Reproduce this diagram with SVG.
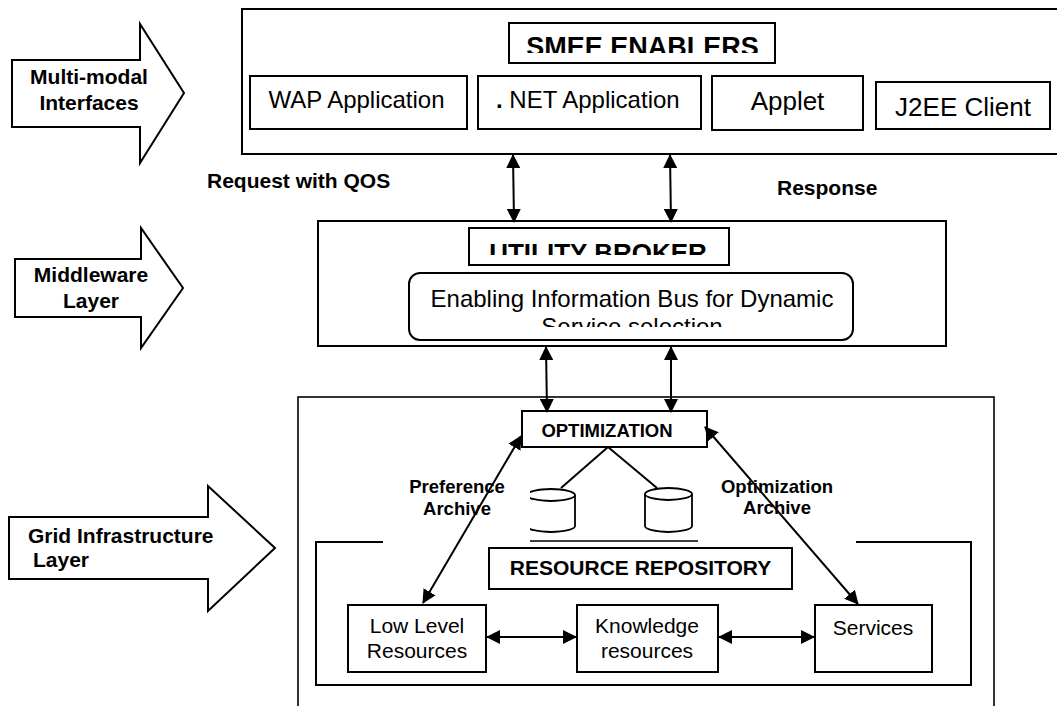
<svg xmlns="http://www.w3.org/2000/svg" width="1057" height="706" viewBox="0 0 1057 706">
<style>
.b{fill:#fff;stroke:#000;stroke-width:2}
.t{font-family:"Liberation Sans",Arial,sans-serif;fill:#000}
.bd{font-weight:bold}
.c{stroke:#000;stroke-width:2;fill:none}
.m{text-anchor:middle}
</style>
<defs>
<marker id="ah" viewBox="0 0 14 14" markerWidth="14" markerHeight="14" refX="13" refY="7" orient="auto-start-reverse" markerUnits="userSpaceOnUse">
<path d="M0,0 L14,7 L0,14 z" fill="#000"/>
</marker>
<clipPath id="cpSmee"><rect x="500" y="20" width="300" height="33"/></clipPath>
<clipPath id="cpUb"><rect x="460" y="225" width="280" height="30"/></clipPath>
<clipPath id="cpBus"><rect x="400" y="270" width="470" height="57"/></clipPath>
<clipPath id="cpCyl"><rect x="530" y="480" width="60" height="60"/></clipPath>
</defs>
<rect width="1057" height="706" fill="#fff"/>

<g id="layer-multimodal">
<polygon class="b" points="12,60 140,60 140,24 184,93 140,163 140,127 12,127"/>
<text class="t bd m" font-size="21" x="89" y="84">Multi-modal</text>
<text class="t bd m" font-size="21" x="89" y="110">Interfaces</text>
</g>
<g id="layer-middleware">
<polygon class="b" points="15,259 141,259 141,228 183,288 141,348 141,317 15,317"/>
<text class="t bd m" font-size="21" x="91" y="282">Middleware</text>
<text class="t bd m" font-size="21" x="91" y="308">Layer</text>
</g>
<g id="layer-grid">
<polygon class="b" points="9,517 208,517 208,486 275,548 208,611 208,579 9,579"/>
<text class="t bd" font-size="21" x="28" y="543">Grid Infrastructure</text>
<text class="t bd" font-size="21" x="33" y="567">Layer</text>
</g>

<g id="smee-enablers">
<rect class="b" x="242" y="9" width="830" height="145"/>
<rect class="b" x="509" y="23" width="266" height="40"/>
<text class="t bd m" font-size="27" x="642.5" y="56" clip-path="url(#cpSmee)">SMEE ENABLERS</text>
</g>
<g id="wap">
<rect class="b" x="250" y="76" width="217" height="53"/>
<text class="t m" font-size="24" x="356.5" y="108">WAP Application</text>
</g>
<g id="net">
<rect class="b" x="478" y="76" width="223" height="53"/>
<text class="t" font-size="24" x="496" y="108"><tspan font-weight="bold">.</tspan> NET Application</text>
</g>
<g id="applet">
<rect class="b" x="712" y="76" width="151" height="54"/>
<text class="t m" font-size="26" x="787.5" y="110">Applet</text>
</g>
<g id="j2ee">
<rect class="b" x="876" y="82" width="174" height="47"/>
<text class="t m" font-size="26" x="963" y="116">J2EE Client</text>
</g>

<g id="utility-broker">
<rect class="b" x="318" y="221" width="628" height="125"/>
<rect class="b" x="469" y="228" width="260" height="37"/>
<text class="t bd m" font-size="26" x="598" y="262" clip-path="url(#cpUb)">UTILITY BROKER</text>
</g>
<g id="info-bus">
<rect class="b" x="409" y="273" width="444" height="67" rx="11"/>
<g clip-path="url(#cpBus)">
<text class="t m" font-size="24" x="632" y="307">Enabling Information Bus for Dynamic</text>
<text class="t m" font-size="24" x="632" y="335">Service selection</text>
</g>
</g>

<g id="grid-box">
<rect x="298" y="397" width="696" height="330" fill="#fff" stroke="#000" stroke-width="1.6"/>
</g>
<g id="resource-repository">
<path d="M383,542 L316,542 L316,685 L971,685 L971,542 L856,542" fill="none" stroke="#000" stroke-width="2"/>
<path d="M530,541 L698,541" stroke="#000" stroke-width="1.3"/>
<rect class="b" x="489" y="548" width="303" height="41"/>
<text class="t bd m" font-size="21" x="640.5" y="575">RESOURCE REPOSITORY</text>
</g>
<g id="optimization">
<rect class="b" x="522" y="411" width="185" height="36"/>
<text class="t bd m" font-size="18.5" x="607" y="437">OPTIMIZATION</text>
</g>
<g id="archive-1">
<g clip-path="url(#cpCyl)">
<path d="M527,495 L527,526 A24,6 0 0 0 575,526 L575,495" fill="#fff" stroke="#000" stroke-width="1.8"/>
<ellipse cx="551" cy="495" rx="24" ry="6" fill="#fff" stroke="#000" stroke-width="1.8"/>
</g>
</g>
<g id="archive-2">
<path d="M645,494 L645,526 A23.5,6 0 0 0 692,526 L692,494" fill="#fff" stroke="#000" stroke-width="1.8"/>
<ellipse cx="668.5" cy="494" rx="23.5" ry="6" fill="#fff" stroke="#000" stroke-width="1.8"/>
</g>
<g id="low-level">
<rect class="b" x="348" y="605" width="138" height="67"/>
<text class="t m" font-size="21" x="417" y="633">Low Level</text>
<text class="t m" font-size="21" x="417" y="658">Resources</text>
</g>
<g id="knowledge">
<rect class="b" x="577" y="605" width="141" height="67"/>
<text class="t m" font-size="21" x="647" y="633">Knowledge</text>
<text class="t m" font-size="21" x="647" y="658">resources</text>
</g>
<g id="services">
<rect class="b" x="815" y="605" width="117" height="67"/>
<text class="t m" font-size="21" x="873" y="635">Services</text>
</g>

<g id="labels">
<text class="t bd" font-size="21" x="207" y="188">Request with QOS</text>
<text class="t bd" font-size="21" x="777" y="195">Response</text>
<text class="t bd m" font-size="18.5" x="457" y="493">Preference</text>
<text class="t bd m" font-size="18.5" x="457" y="515">Archive</text>
<text class="t bd m" font-size="18.5" x="777" y="493">Optimization</text>
<text class="t bd m" font-size="18.5" x="777" y="514">Archive</text>
</g>

<g id="connectors">
<line class="c" x1="513" y1="155" x2="514" y2="222" marker-start="url(#ah)" marker-end="url(#ah)"/>
<line class="c" x1="670" y1="155" x2="671" y2="222" marker-start="url(#ah)" marker-end="url(#ah)"/>
<line class="c" x1="546" y1="347" x2="547" y2="412" marker-start="url(#ah)" marker-end="url(#ah)"/>
<line class="c" x1="671" y1="347" x2="671" y2="412" marker-start="url(#ah)" marker-end="url(#ah)"/>
<line class="c" x1="608" y1="447" x2="561" y2="488" stroke-width="1.6"/>
<line class="c" x1="608" y1="447" x2="657" y2="488" stroke-width="1.6"/>
<line class="c" x1="521" y1="436" x2="423" y2="603" marker-start="url(#ah)" marker-end="url(#ah)"/>
<line class="c" x1="705" y1="427" x2="858" y2="604" marker-start="url(#ah)" marker-end="url(#ah)"/>
<line class="c" x1="487" y1="637" x2="576" y2="637" marker-start="url(#ah)" marker-end="url(#ah)"/>
<line class="c" x1="719" y1="637" x2="814" y2="637" marker-start="url(#ah)" marker-end="url(#ah)"/>
</g>
</svg>
